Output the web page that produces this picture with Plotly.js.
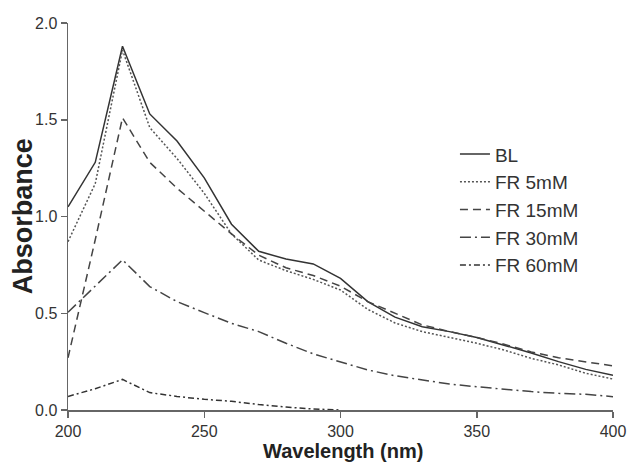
<!DOCTYPE html>
<html>
<head>
<meta charset="utf-8">
<script src="https://cdn.plot.ly/plotly-3.0.1.min.js"></script>
<style>
  html, body { margin: 0; padding: 0; background: #fff; }
  #chart { width: 630px; height: 468px; }
</style>
</head>
<body>
<div id="chart"></div>
<script>
// Wavelength grid (nm)
const wavelength = [200, 210, 220, 230, 240, 250, 260, 270, 280, 290, 300,
                    310, 320, 330, 340, 350, 360, 370, 380, 390, 400];

// Absorbance spectra
const absBL    = [1.05, 1.28, 1.88, 1.53, 1.39, 1.20, 0.96, 0.82, 0.78, 0.755, 0.68,
                  0.56, 0.48, 0.43, 0.405, 0.375, 0.335, 0.295, 0.25, 0.21, 0.18];
const absFR5   = [0.87, 1.17, 1.86, 1.46, 1.30, 1.12, 0.91, 0.775, 0.72, 0.675, 0.62,
                  0.52, 0.45, 0.405, 0.375, 0.345, 0.31, 0.267, 0.233, 0.19, 0.16];
const absFR15  = [0.27, 0.88, 1.51, 1.28, 1.146, 1.03, 0.91, 0.80, 0.735, 0.695, 0.64,
                  0.56, 0.50, 0.44, 0.405, 0.375, 0.34, 0.30, 0.27, 0.25, 0.228];
const absFR30  = [0.505, 0.64, 0.776, 0.638, 0.56, 0.503, 0.448, 0.405, 0.345, 0.29, 0.25,
                  0.207, 0.177, 0.155, 0.134, 0.12, 0.107, 0.095, 0.086, 0.081, 0.069];
// FR 60mM was recorded only up to 300 nm
const absFR60  = [0.07, 0.11, 0.158, 0.09, 0.07, 0.055, 0.045, 0.028, 0.015, 0.005, 0.0];

const seriesNames = ['BL', 'FR 5mM', 'FR 15mM', 'FR 30mM', 'FR 60mM'];
const xTitle = 'Wavelength (nm)';
const yTitle = 'Absorbance';

const FONT = 'Liberation Sans, Arial, Helvetica, sans-serif';

function trace(name, y, dash, color) {
  return {
    type: 'scatter',
    mode: 'lines',
    name: name,
    x: wavelength.slice(0, y.length),
    y: y,
    line: { color: color, width: 1.5, dash: dash }
  };
}

const data = [
  trace(seriesNames[0], absBL,   'solid', '#333333'),
  trace(seriesNames[1], absFR5,  '2px,2px', '#555555'),
  trace(seriesNames[2], absFR15, '8px,5px', '#444444'),
  trace(seriesNames[3], absFR30, '11px,4px,2px,4px', '#444444'),
  trace(seriesNames[4], absFR60, '6px,3px,2px,3px', '#333333')
];

const layout = {
  width: 630,
  height: 468,
  margin: { l: 68, r: 17, t: 23, b: 58, pad: 0 },
  paper_bgcolor: '#ffffff',
  plot_bgcolor: '#ffffff',
  font: { family: FONT, color: '#333333' },
  showlegend: true,
  legend: {
    x: 0.71, y: 0.71, xanchor: 'left', yanchor: 'top',
    bgcolor: 'rgba(0,0,0,0)',
    font: { family: FONT, size: 19, color: '#333333' },
    tracegroupgap: 0
  },
  xaxis: {
    range: [200, 400],
    tickmode: 'linear', tick0: 200, dtick: 50,
    ticks: 'outside', ticklen: 6, tickwidth: 1.5, tickcolor: '#666666',
    showline: true, linecolor: '#666666', linewidth: 1.5,
    showgrid: false, zeroline: false,
    tickfont: { family: FONT, size: 16, color: '#333333' }
  },
  yaxis: {
    range: [0, 2],
    tickmode: 'linear', tick0: 0, dtick: 0.5, tickformat: '.1f',
    ticks: 'outside', ticklen: 6, tickwidth: 1.5, tickcolor: '#666666',
    showline: true, linecolor: '#666666', linewidth: 1.5,
    showgrid: false, zeroline: false,
    tickfont: { family: FONT, size: 16, color: '#333333' }
  },
  // Axis titles placed as paper-anchored annotations for precise positioning
  annotations: [
    {
      text: '<b>' + xTitle + '</b>',
      xref: 'paper', yref: 'paper', x: 0.505, y: -0.105,
      xanchor: 'center', yanchor: 'middle', showarrow: false,
      font: { family: FONT, size: 20, color: '#222222' }
    },
    {
      text: '<b>' + yTitle + '</b>',
      xref: 'paper', yref: 'paper', x: -0.083, y: 0.5,
      xanchor: 'center', yanchor: 'middle', textangle: -90, showarrow: false,
      font: { family: FONT, size: 27, color: '#222222' }
    }
  ]
};

Plotly.newPlot('chart', data, layout, { displayModeBar: false, staticPlot: true });
</script>
</body>
</html>
